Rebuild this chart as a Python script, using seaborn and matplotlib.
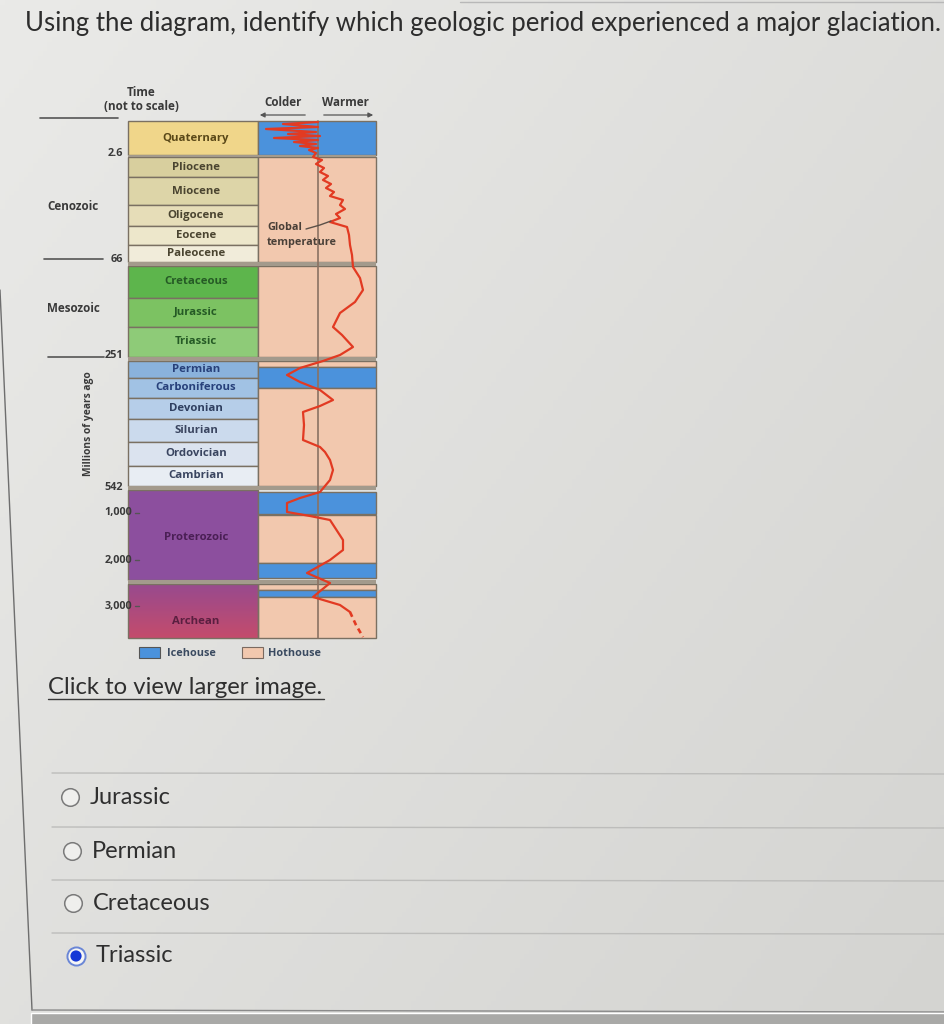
import numpy as np
import matplotlib
matplotlib.use("Agg")
import matplotlib.pyplot as plt
import seaborn as sns

# ---------------- data ----------------
question = "Using the diagram, identify which geologic period experienced a major glaciation."
answers = ["Jurassic", "Permian", "Cretaceous", "Triassic"]
selected_answer = "Triassic"

periods = ["Quaternary", "Pliocene", "Miocene", "Oligocene", "Eocene", "Paleocene",
           "Cretaceous", "Jurassic", "Triassic",
           "Permian", "Carboniferous", "Devonian", "Silurian", "Ordovician", "Cambrian",
           "Proterozoic", "Archean"]
# diagram rows (not to scale): top / bottom of each period box
period_top = [121, 157, 177, 205, 226, 245, 266, 298, 327, 361, 378, 398, 419, 442, 466, 490, 584]
period_bottom = [155, 177, 205, 226, 245, 262, 298, 327, 357, 378, 398, 419, 442, 466, 486, 580, 638]
period_colors = ["#f0d68a", "#d8cf9e", "#ddd5a8", "#e6ddb8", "#ede7cb", "#f1ecda",
                 "#5db54c", "#7cc262", "#8ecb78",
                 "#8ab2dc", "#a1c2e4", "#b6cee9", "#cbdaed", "#dbe3ef", "#e8edf3",
                 "#8c4f9e", "#a84a7c"]
period_text = ["#5a4818", "#4a4430", "#4a4430", "#4a4430", "#4a4430", "#4a4430",
               "#255a25", "#255a25", "#255a25",
               "#27407a", "#27407a", "#2f3f60", "#3a4560", "#3a4560", "#3a4560",
               "#4a1f55", "#5a1f40"]

climate = ["Icehouse", "Hothouse", "Hothouse", "Hothouse", "Icehouse", "Hothouse",
           "Icehouse", "Hothouse", "Icehouse", "Hothouse", "Icehouse", "Hothouse"]
climate_top = [121, 157, 266, 361, 367, 388, 492, 515, 563, 584, 590, 597]
climate_bottom = [155, 262, 357, 367, 388, 486, 514, 563, 578, 590, 597, 638]

# global temperature curve (horizontal = colder/warmer, vertical = diagram row)
temp_x = [318, 283, 318, 266, 316, 288, 320, 274, 318, 294, 316, 300, 318, 309, 316, 313,
          322, 316, 324, 320, 328, 323, 331, 326, 334, 330, 343, 340, 345, 336, 340, 330,
          347, 349, 350, 352, 353, 360, 363, 355, 340, 333, 342, 353, 340, 323, 300, 287,
          300, 320, 333, 320, 303, 304, 303, 320, 325, 330, 333, 330, 320, 300, 287, 287,
          310, 330, 343, 343, 330, 307, 330, 313, 340, 350]
temp_y = [122, 124, 127, 129, 132, 134, 136, 138, 140, 142, 144, 146, 148, 150, 153, 157,
          160, 164, 168, 172, 176, 180, 184, 188, 192, 196, 200, 205, 209, 214, 218, 222,
          227, 235, 245, 255, 267, 278, 290, 302, 313, 327, 335, 347, 355, 361, 368, 375,
          382, 390, 400, 406, 412, 425, 440, 447, 452, 460, 470, 480, 492, 498, 503, 512,
          516, 520, 540, 550, 560, 573, 583, 597, 605, 612]
temp_dash_x = [350, 356, 363]
temp_dash_y = [612, 625, 637]

era_names = ["Cenozoic", "Mesozoic"]
era_label_y = [207, 308]
boundary_labels = ["2.6", "66", "251", "542"]
boundary_y = [153, 260, 356, 487]
age_ticks = ["1,000", "2,000", "3,000"]
age_tick_y = [513, 560, 606]

# ---------------- style ----------------
sns.set_theme(style="white")
plt.rcParams["font.family"] = ["Open Sans", "DejaVu Sans"]

fig = plt.figure(figsize=(9.45, 10.24), dpi=100)
ax = fig.add_axes([0, 0, 1, 1])
ax.set_xlim(0, 945)
ax.set_ylim(1024, 0)
ax.axis("off")

# screen-photo background gradient
gx = np.linspace(0, 1, 200)[None, :]
gy = np.linspace(0, 1, 220)[:, None]
t = 0.55 * gx + 0.45 * gy
c0 = np.array([234, 234, 232]) / 255
c1 = np.array([212, 212, 209]) / 255
bg = c0[None, None, :] * (1 - t[..., None]) + c1[None, None, :] * t[..., None]
ax.imshow(bg, extent=(0, 945, 1024, 0), aspect="auto", zorder=0)

# page frame
ax.plot([0, 32], [290, 1010], color="#6e6e6e", lw=1.0, zorder=1)
ax.plot([32, 945], [1010, 1012], color="#8a8a8a", lw=1.0, zorder=1)
ax.bar(488, 12, bottom=1013, width=915, color="#a9a9a7", zorder=1)
ax.plot([460, 945], [2, 2], color="#b8b8b8", lw=1.0, zorder=1)

# question
ax.text(25, 23, question, fontsize=18.5, family=["Lato", "DejaVu Sans"], color="#2d2d2d",
        va="center", ha="left", zorder=5)

# ---------------- diagram ----------------
left_x0, left_x1 = 128, 258
right_x0, right_x1 = 258, 376
edge = "#7a7062"

heights = [b - t for t, b in zip(period_top, period_bottom)]
for i, name in enumerate(periods):
    if name == "Archean":
        continue
    ax.bar((left_x0 + left_x1) / 2, heights[i], bottom=period_top[i], width=left_x1 - left_x0,
           color=period_colors[i], edgecolor=edge, linewidth=1.0, zorder=2)

# Archean gradient box
ai = periods.index("Archean")
grad = np.linspace(0, 1, 60)[:, None, None]
ca = np.array([0x98, 0x4a, 0x8e]) / 255
cb = np.array([0xc4, 0x4c, 0x6c]) / 255
arch = ca * (1 - grad) + cb * grad
arch = np.repeat(arch, 4, axis=1)
ax.imshow(arch, extent=(left_x0, left_x1, period_bottom[ai], period_top[ai]), aspect="auto", zorder=2)
ax.bar((left_x0 + left_x1) / 2, heights[ai], bottom=period_top[ai], width=left_x1 - left_x0,
       color="none", edgecolor=edge, linewidth=1.0, zorder=3)

clim_col = {"Icehouse": "#4b92dc", "Hothouse": "#f2c8ae"}
for c, t0, t1 in zip(climate, climate_top, climate_bottom):
    ax.bar((right_x0 + right_x1) / 2, t1 - t0, bottom=t0, width=right_x1 - right_x0,
           color=clim_col[c], edgecolor=edge, linewidth=1.0, zorder=2)

# era separators (thicker bands)
for t0, t1 in [(155, 157), (262, 266), (357, 361), (486, 490), (580, 584)]:
    ax.bar((left_x0 + right_x1) / 2, t1 - t0, bottom=t0, width=right_x1 - left_x0,
           color="#a39a8c", edgecolor="none", zorder=3)

# middle reference line of the temperature column
ax.plot([318, 318], [121, 638], color="#8a7263", lw=1.2, zorder=4)

# temperature curve
sns.lineplot(x=temp_x, y=temp_y, sort=False, estimator=None, color="#e23a22", lw=1.6,
             ax=ax, zorder=6)
sns.lineplot(x=temp_dash_x, y=temp_dash_y, sort=False, estimator=None, color="#e23a22", lw=1.9,
             ax=ax, zorder=6, linestyle=(0, (2, 1.5)))
ax.set_xlim(0, 945)
ax.set_ylim(1024, 0)
ax.axis("off")

# period labels
for i, name in enumerate(periods):
    yc = (period_top[i] + period_bottom[i]) / 2
    if name == "Proterozoic":
        yc = 537
    if name == "Archean":
        yc = 621
    ax.text((left_x0 + left_x1) / 2 + 3, yc, name, fontsize=8.2, weight="bold",
            color=period_text[i], ha="center", va="center", zorder=7)

# header texts
lab = "#3a3a3a"
ax.text(141, 93, "Time", fontsize=8.4, weight="bold", color=lab, ha="center", va="center")
ax.text(141, 107, "(not to scale)", fontsize=8.4, weight="bold", color=lab, ha="center", va="center")
ax.text(283, 102, "Colder", fontsize=8.4, weight="bold", color=lab, ha="center", va="center")
ax.text(345, 102, "Warmer", fontsize=8.4, weight="bold", color=lab, ha="center", va="center")
ax.annotate("", xy=(257, 115), xytext=(308, 115),
            arrowprops=dict(arrowstyle="-|>", color="#555555", lw=0.9, mutation_scale=7))
ax.annotate("", xy=(376, 115), xytext=(321, 115),
            arrowprops=dict(arrowstyle="-|>", color="#555555", lw=0.9, mutation_scale=7))

# era lines / labels
ax.plot([40, 118], [118, 118], color="#555555", lw=1.2)
ax.plot([44, 103], [259, 259], color="#555555", lw=1.2)
ax.plot([48, 104], [357, 357], color="#555555", lw=1.2)
for nm, yy in zip(era_names, era_label_y):
    ax.text(73, yy, nm, fontsize=8.4, weight="bold", color="#3a3a3a", ha="center", va="center")
for lb, yy in zip(boundary_labels, boundary_y):
    ax.text(123, yy, lb, fontsize=7.8, weight="bold", color="#3a3a3a", ha="right", va="center")
for lb, yy in zip(age_ticks, age_tick_y):
    ax.text(132, yy, lb, fontsize=7.8, weight="bold", color="#3a3a3a", ha="right", va="center")
    ax.plot([135, 139], [yy, yy], color="#555555", lw=1.0)
ax.text(88, 424, "Millions of years ago", fontsize=7.4, weight="bold", color="#3a3a3a",
        ha="center", va="center", rotation=90)

# global temperature annotation
ax.text(267, 228, "Global", fontsize=7.8, weight="bold", color="#4a4038", ha="left", va="center", zorder=7)
ax.text(267, 243, "temperature", fontsize=7.8, weight="bold", color="#4a4038", ha="left", va="center", zorder=7)
ax.plot([306, 320, 331], [229, 225, 221], color="#5a5048", lw=1.0, zorder=7)

# legend
ax.bar(149, 11, bottom=647, width=21, color="#4b92dc", edgecolor="#555555", lw=0.8)
ax.text(167, 653, "Icehouse", fontsize=7.8, weight="bold", color="#3a4a60", ha="left", va="center")
ax.bar(252, 11, bottom=647, width=21, color="#f2c8ae", edgecolor="#7a6a60", lw=0.8)
ax.text(268, 653, "Hothouse", fontsize=7.8, weight="bold", color="#3a4a60", ha="left", va="center")

# link
ax.text(48, 688, "Click to view larger image.", fontsize=17.2, family=["Lato", "DejaVu Sans"],
        color="#2f2f2f", ha="left", va="center")
ax.plot([48, 324], [699, 699], color="#3a3a3a", lw=1.0)

# ---------------- answers ----------------
sep_y = [773, 827, 880, 933]
ans_y = [797, 851, 903, 956]
circ_x = [70, 72, 73, 76]
for sy in sep_y:
    ax.plot([52, 945], [sy, sy + 1], color="#bdbdbb", lw=1.0)
for a, yy, cx in zip(answers, ans_y, circ_x):
    if a == selected_answer:
        ax.scatter([cx], [yy], s=170, facecolor="#f5f5f5", edgecolor="#6a86d6", lw=1.4, zorder=8)
        ax.scatter([cx], [yy], s=65, facecolor="#1537d6", edgecolor="none", zorder=9)
    else:
        ax.scatter([cx], [yy], s=160, facecolor="#efefed", edgecolor="#7a7a7a", lw=1.1, zorder=8)
    ax.text(cx + 20, yy, a, fontsize=17.0, family=["Lato", "DejaVu Sans"], color="#2f2f2f",
            ha="left", va="center", zorder=8)

fig.savefig("out.png", dpi=100)
